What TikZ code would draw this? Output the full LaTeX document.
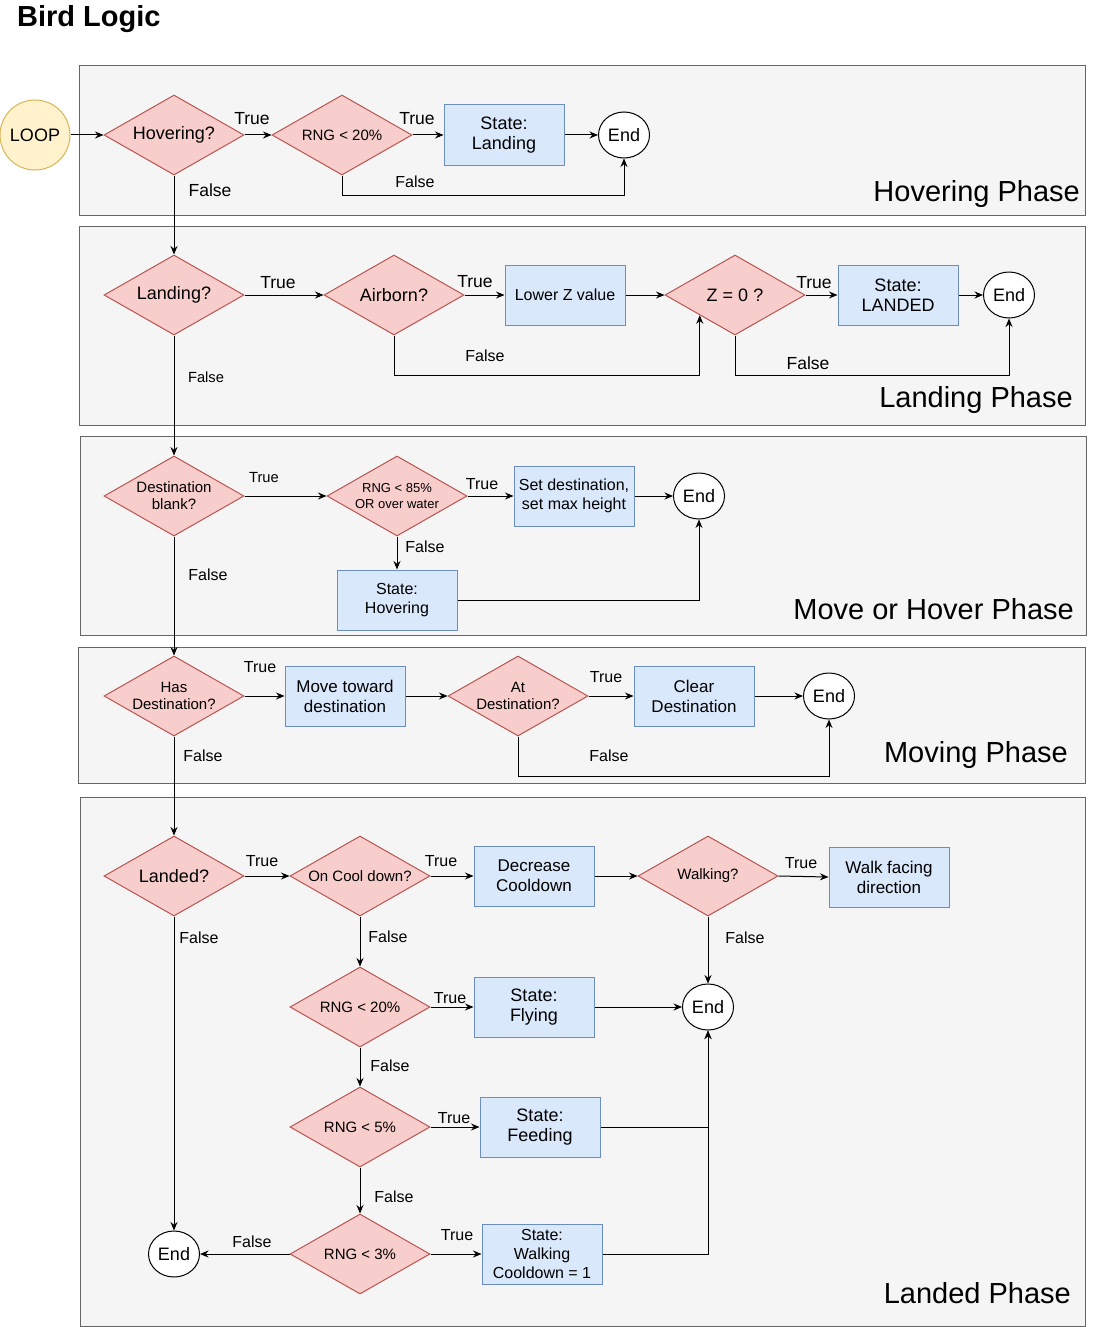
\documentclass[tikz,border=0pt]{standalone}
\usepackage{fontspec}
\setmainfont{Liberation Sans}
\usetikzlibrary{shapes.geometric,arrows.meta,calc}
\definecolor{decfill}{HTML}{F8CECC}
\definecolor{decline}{HTML}{B85450}
\definecolor{procfill}{HTML}{DAE8FC}
\definecolor{procline}{HTML}{6C8EBF}
\definecolor{loopfill}{HTML}{FFF2CC}
\definecolor{loopline}{HTML}{D6B656}
\definecolor{phasefill}{HTML}{F5F5F5}
\definecolor{phaseline}{HTML}{666666}
\tikzset{>={Stealth[length=8.5pt,width=7pt]}}
\tikzset{
  txtL/.style={font=\fontsize{18}{20}\selectfont},
  txtM/.style={font=\fontsize{16}{19}\selectfont},
  txtS/.style={font=\fontsize{15}{17}\selectfont},
  txtT/.style={font=\fontsize{13}{16}\selectfont},
  decision/.style={diamond, aspect=1.75, draw=decline, fill=decfill, line width=1pt,
    minimum width=140, minimum height=80, inner sep=0pt, align=center, txtL},
  process/.style={rectangle, draw=procline, fill=procfill, line width=1pt,
    minimum width=120, minimum height=60, inner sep=2pt, align=center, txtL},
  terminal/.style={ellipse, draw=black, fill=white, line width=1pt,
    minimum width=51, minimum height=46, inner sep=0pt, txtL},
  loopnode/.style={circle, draw=loopline, fill=loopfill, line width=1pt,
    minimum size=70, inner sep=0pt, txtL},
  phase/.style={draw=phaseline, fill=phasefill, line width=1pt},
  phaselbl/.style={anchor=east, inner sep=0pt, font=\fontsize{29}{31}\selectfont},
  lbl/.style={txtM, inner sep=0pt},
  lblL/.style={font=\fontsize{17.5}{20}\selectfont, inner sep=0pt},
  lblS/.style={font=\fontsize{14.7}{17}\selectfont, inner sep=0pt},
  flow/.style={->, line width=1pt, black}
}
\begin{document}
\begin{tikzpicture}[x=1pt,y=-1pt]
    \useasboundingbox[fill=white] (0,0) rectangle (1093,1327);
    \node[anchor=west, inner sep=0pt, font=\fontsize{29}{31}\selectfont\bfseries] at (17,19) (title) {Bird Logic};

    \draw[phase] (79,66) rectangle (1085,215);
    \draw[phase] (79,226) rectangle (1085,425);
    \draw[phase] (80,436) rectangle (1086,635);
    \draw[phase] (78,647) rectangle (1085,783);
    \draw[phase] (80,797) rectangle (1085,1326);
    \node[phaselbl] at (1080,194) (ph1) {Hovering Phase};
    \node[phaselbl] at (1073,400) (ph2) {Landing Phase};
    \node[phaselbl] at (1074,609) (ph3) {Move or Hover Phase};
    \node[phaselbl] at (1068,755) (ph4) {Moving Phase};
    \node[phaselbl] at (1071,1293) (ph5) {Landed Phase};

    \node[loopnode] at (35,135) (loop) {LOOP};
    \node[decision] at (174,135) (hov) {Hovering?};
    \node[decision, txtS] at (342,135) (rnga) {RNG < 20\%};
    \node[process] at (504,135) (sland) {State:\\Landing};
    \node[terminal] at (624,135) (enda) {End};

    \node[decision] at (174,295) (land) {Landing?};
    \node[decision] at (394,295) (air) {Airborn?};
    \node[process, txtM] at (565,295) (lowz) {Lower Z value};
    \node[decision] at (735,295) (zero) {Z = 0 ?};
    \node[process] at (898,295) (slanded) {State:\\LANDED};
    \node[terminal] at (1009,295) (endb) {End};

    \node[decision, txtS] at (174,496) (dest) {Destination\\blank?};
    \node[decision, txtT] at (397,496) (rngb) {RNG < 85\%\\OR over water};
    \node[process, txtM] at (574,496) (setd) {Set destination,\\set max height};
    \node[terminal] at (699,496) (endc) {End};
    \node[process, txtM] at (397,600) (shov) {State:\\Hovering};

    \node[decision, txtS] at (174,696) (hasd) {Has\\Destination?};
    \node[process, font=\fontsize{17}{20}\selectfont] at (345,696) (move) {Move toward\\destination};
    \node[decision, txtS] at (518,696) (atd) {At\\Destination?};
    \node[process, font=\fontsize{17}{20}\selectfont] at (694,696) (clear) {Clear\\Destination};
    \node[terminal] at (829,696) (endd) {End};

    \node[decision] at (174,876) (landed) {Landed?};
    \node[decision, txtS] at (360,876) (cool) {On Cool down?};
    \node[process, font=\fontsize{17}{20}\selectfont] at (534,876) (decr) {Decrease\\Cooldown};
    \node[decision, txtS] at (708,876) (walk) {Walking?};
    \node[process, font=\fontsize{17}{20}\selectfont] at (889,877) (wface) {Walk facing\\direction};
    \node[terminal] at (708,1007) (ende) {End};
    \node[decision, txtS] at (360,1007) (rngc) {RNG < 20\%};
    \node[process] at (534,1007) (sfly) {State:\\Flying};
    \node[decision, txtS] at (360,1127) (rngd) {RNG < 5\%};
    \node[process] at (540,1127) (sfeed) {State:\\Feeding};
    \node[decision, txtS] at (360,1254) (rnge) {RNG < 3\%};
    \node[process, txtM] at (542,1254) (swalk) {State:\\Walking\\Cooldown = 1};
    \node[terminal] at (174,1254) (endf) {End};

    \coordinate (zin) at ($(zero.west)!0.5!(zero.south)$);

    \draw[flow] (loop.east) -- (hov.west);
    \draw[flow] (hov.east) -- (rnga.west);
    \draw[flow] (rnga.east) -- (sland.west);
    \draw[flow] (sland.east) -- (enda.west);
    \draw[flow] (rnga.south) -- ++(0,20) -| (enda.south);
    \draw[flow] (hov.south) -- (land.north);

    \draw[flow] (land.east) -- (air.west);
    \draw[flow] (air.east) -- (lowz.west);
    \draw[flow] (lowz.east) -- (zero.west);
    \draw[flow] (zero.east) -- (slanded.west);
    \draw[flow] (slanded.east) -- (endb.west);
    \draw[flow] (air.south) -- ++(0,40) -| (zin);
    \draw[flow] (zero.south) -- ++(0,40) -| (endb.south);
    \draw[flow] (land.south) -- (dest.north);

    \draw[flow] (dest.east) -- (rngb.west);
    \draw[flow] (rngb.east) -- (setd.west);
    \draw[flow] (setd.east) -- (endc.west);
    \draw[flow] (rngb.south) -- (shov.north);
    \draw[flow] (shov.east) -| (endc.south);
    \draw[flow] (dest.south) -- (hasd.north);

    \draw[flow] (hasd.east) -- (move.west);
    \draw[flow] (move.east) -- (atd.west);
    \draw[flow] (atd.east) -- (clear.west);
    \draw[flow] (clear.east) -- (endd.west);
    \draw[flow] (atd.south) -- ++(0,40) -| (endd.south);
    \draw[flow] (hasd.south) -- (landed.north);

    \draw[flow] (landed.east) -- (cool.west);
    \draw[flow] (cool.east) -- (decr.west);
    \draw[flow] (decr.east) -- (walk.west);
    \draw[flow] (walk.east) -- (wface.west);
    \draw[flow] (walk.south) -- (ende.north);
    \draw[flow] (cool.south) -- (rngc.north);
    \draw[flow] (rngc.east) -- (sfly.west);
    \draw[flow] (sfly.east) -- (ende.west);
    \draw[flow] (rngc.south) -- (rngd.north);
    \draw[flow] (rngd.east) -- (sfeed.west);
    \draw[flow] (sfeed.east) -| (ende.south);
    \draw[flow] (rngd.south) -- (rnge.north);
    \draw[flow] (rnge.east) -- (swalk.west);
    \draw[flow] (swalk.east) -| (ende.south);
    \draw[flow] (rnge.west) -- (endf.east);
    \draw[flow] (landed.south) -- (endf.north);

    \node[lblL] at (252,119) (t1) {True};
    \node[lblL] at (417,119) (t2) {True};
    \node[lbl] at (415,182) (f1) {False};
    \node[lblL] at (210,190) (f2) {False};

    \node[lblL] at (278,283) (t3) {True};
    \node[lblL] at (475,282) (t4) {True};
    \node[lblL] at (814,283) (t5) {True};
    \node[lbl] at (485,356) (f3) {False};
    \node[lblL] at (808,363) (f4) {False};
    \node[lblS] at (206,377) (f5) {False};

    \node[lblS] at (264,478) (t6) {True};
    \node[lbl] at (482,484) (t7) {True};
    \node[lbl] at (425,547) (f6) {False};
    \node[lbl] at (208,575) (f7) {False};

    \node[lbl] at (260,667) (t8) {True};
    \node[lbl] at (606,677) (t9) {True};
    \node[lbl] at (609,756) (f8) {False};
    \node[lbl] at (203,756) (f9) {False};

    \node[lbl] at (262,861) (t10) {True};
    \node[lbl] at (441,861) (t11) {True};
    \node[lbl] at (801,863) (t12) {True};
    \node[lbl] at (199,938) (f10) {False};
    \node[lbl] at (388,937) (f11) {False};
    \node[lbl] at (745,938) (f12) {False};
    \node[lbl] at (450,998) (t13) {True};
    \node[lbl] at (390,1066) (f13) {False};
    \node[lbl] at (454,1118) (t14) {True};
    \node[lbl] at (394,1197) (f14) {False};
    \node[lbl] at (457,1235) (t15) {True};
    \node[lbl] at (252,1242) (f15) {False};
\end{tikzpicture}
\end{document}
